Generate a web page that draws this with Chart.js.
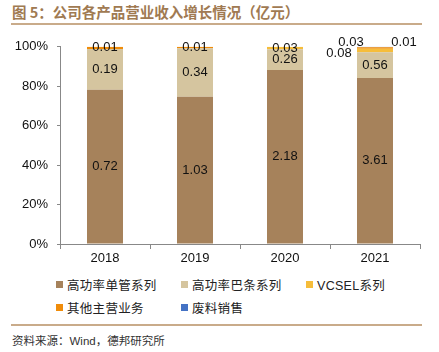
<!DOCTYPE html>
<html>
<head>
<meta charset="utf-8">
<script src="https://cdn.jsdelivr.net/npm/chart.js@4/dist/chart.umd.min.js"></script>
<style>
  body { margin: 0; width: 439px; height: 352px; background: #fff; position: relative; overflow: hidden;
         font-family: "Liberation Sans", "Noto Sans CJK SC", sans-serif; }
  #title { position: absolute; left: 12px; top: 1px; font: bold 14.5px "Noto Sans CJK SC", sans-serif; color: #a07a52; white-space: nowrap; }
  .rule { position: absolute; left: 11px; width: 411px; height: 2px; background: #c9ab8a; }
  #wrap { position: absolute; left: 0; top: 30px; width: 439px; height: 244px; }
  #legend { position: absolute; left: 56px; top: 275px; width: 380px; }
  .item { position: absolute; display: flex; align-items: center; font: 12.5px "Liberation Sans", "Noto Sans CJK SC", sans-serif; color: #222; white-space: nowrap; letter-spacing: 0.3px; }
  .box { width: 7px; height: 7px; margin-right: 4px; }
  #source { position: absolute; left: 12px; top: 332px; font: 11.5px "Liberation Sans", "Noto Sans CJK SC", sans-serif; color: #333; white-space: nowrap; }
</style>
</head>
<body>
<div id="title">图 5：公司各产品营业收入增长情况（亿元）</div>
<div class="rule" style="top:23px"></div>
<div id="wrap"><canvas id="chart"></canvas></div>
<div id="legend"></div>
<div class="rule" style="top:324px"></div>
<div id="source">资料来源：Wind，德邦研究所</div>
<script>
// years and revenue per product line (亿元)
const years = ["2018", "2019", "2020", "2021"];
const singleTube = [0.72, 1.03, 2.18, 3.61];
const barSeries = [0.19, 0.34, 0.26, 0.56];
const vcsel = [0, 0, 0.03, 0.08];
const otherMain = [0.01, 0.01, 0, 0.03];
const scrap = [0, 0, 0, 0.01];
const yTicks = [0, 20, 40, 60, 80, 100];

const seriesNames = ["高功率单管系列", "高功率巴条系列", "VCSEL系列", "其他主营业务", "废料销售"];
const seriesColors = ["#a6825b", "#d5c59f", "#f6bd3a", "#f08c0a", "#4472c4"];
const seriesData = [singleTube, barSeries, vcsel, otherMain, scrap];

const totals = years.map((_, i) => seriesData.reduce((s, d) => s + d[i], 0));

// labels that sit outside the 2021 bar (dataset index -> offset)
const outsideLabels = {
  "2-3": { dx: -36, dy: 3 },
  "3-3": { dx: -24, dy: -5.5 },
  "4-3": { dx: 29, dy: -4.5 },
};

const valueLabels = {
  id: "valueLabels",
  afterDatasetsDraw(chart) {
    const ctx = chart.ctx;
    ctx.save();
    ctx.font = "13px 'Liberation Sans', sans-serif";
    ctx.fillStyle = "#111";
    ctx.textAlign = "center";
    ctx.textBaseline = "middle";
    seriesData.forEach((data, di) => {
      const meta = chart.getDatasetMeta(di);
      data.forEach((v, i) => {
        if (!v) return;
        const el = meta.data[i];
        let x = el.x;
        let y = (el.y + el.base) / 2;
        const off = outsideLabels[di + "-" + i];
        if (off) { x += off.dx; y += off.dy; }
        ctx.fillText(v.toFixed(2), x, y);
      });
    });
    ctx.restore();
  },
};

new Chart(document.getElementById("chart"), {
  type: "bar",
  data: {
    labels: years,
    datasets: seriesData.map((d, k) => ({
      label: seriesNames[k],
      data: d.map((v, i) => (v / totals[i]) * 100),
      backgroundColor: seriesColors[k],
      borderWidth: 0,
      barPercentage: 0.4,
      categoryPercentage: 1,
    })),
  },
  options: {
    responsive: true,
    maintainAspectRatio: false,
    animation: false,
    layout: { padding: { top: 16, right: 19, left: 0, bottom: 0 } },
    plugins: { legend: { display: false }, tooltip: { enabled: false } },
    scales: {
      x: {
        stacked: true,
        grid: { display: true, drawOnChartArea: false, drawTicks: true, tickLength: 5, color: "#888", offset: true },
        border: { color: "#888" },
        ticks: { color: "#111", font: { size: 13, family: "'Liberation Sans', sans-serif" }, padding: 2 },
        afterFit: (s) => { s.height = 30; },
      },
      y: {
        stacked: true,
        min: 0,
        max: 100,
        afterBuildTicks: (s) => { s.ticks = yTicks.map((v) => ({ value: v })); },
        grid: { display: true, drawOnChartArea: false, tickLength: 3, color: "#888" },
        border: { color: "#888" },
        ticks: { color: "#111", font: { size: 13, family: "'Liberation Sans', sans-serif" }, padding: 9, callback: (v) => v + "%" },
        afterFit: (s) => { s.width = 60; },
      },
    },
  },
  plugins: [valueLabels],
});

// legend in three columns like the report layout
const legend = document.getElementById("legend");
const colX = [0, 125, 250];
seriesNames.forEach((name, k) => {
  const item = document.createElement("div");
  item.className = "item";
  item.style.left = colX[k % 3] + "px";
  item.style.top = (Math.floor(k / 3) * 23) + "px";
  item.innerHTML = `<span class="box" style="background:${seriesColors[k]}"></span>${name}`;
  legend.appendChild(item);
});
</script>
</body>
</html>
